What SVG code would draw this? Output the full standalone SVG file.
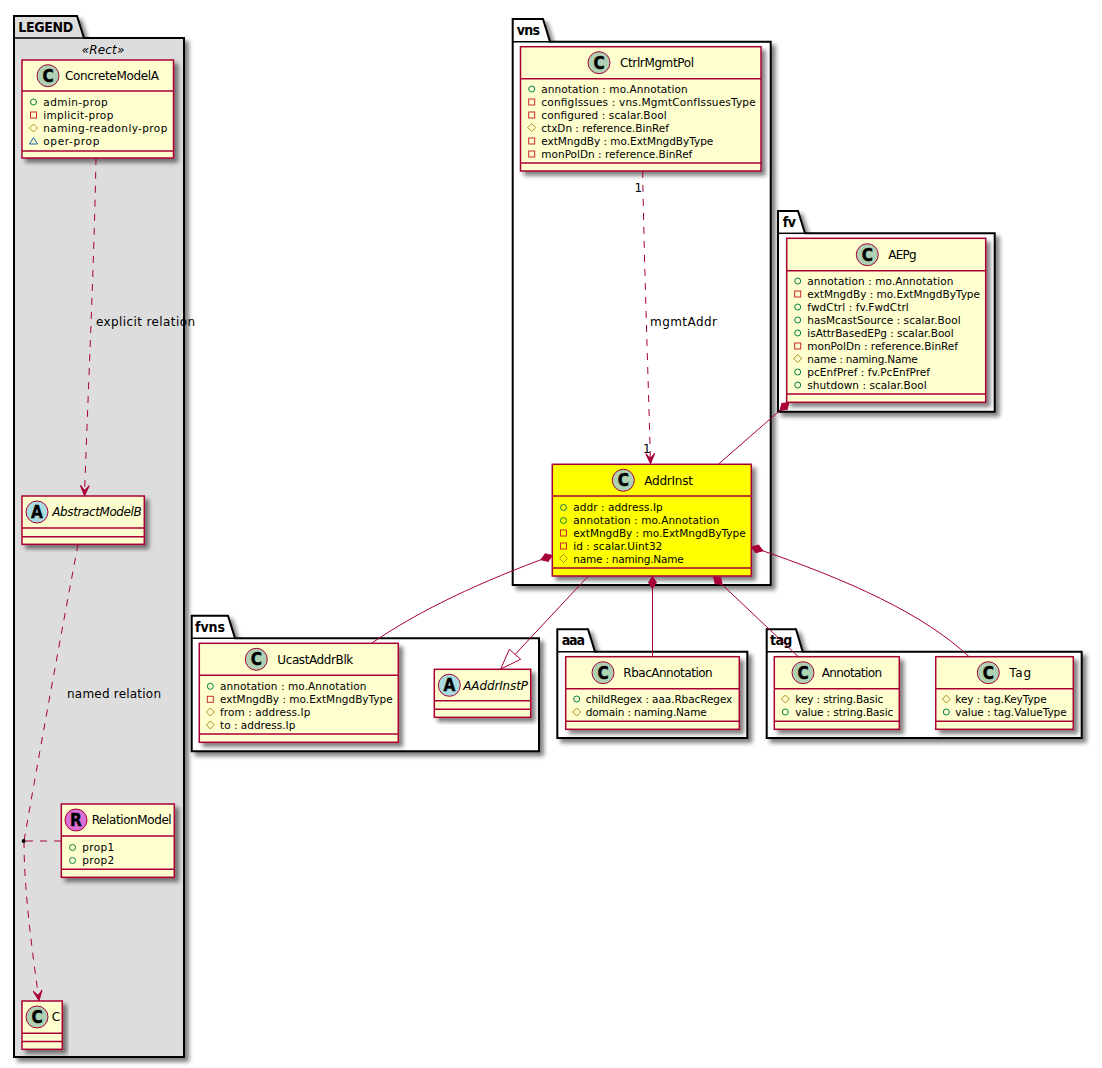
<svg xmlns="http://www.w3.org/2000/svg" width="1102" height="1068" viewBox="0 0 1102 1068">
<style>
text{font-family:"DejaVu Sans","Liberation Sans",sans-serif;fill:#000}
.n{font-size:12px}
.a{font-size:10.5px}
.l{font-size:12px}
.p{font-size:14px;font-weight:bold;font-stretch:condensed;font-family:"DejaVu Sans Condensed","DejaVu Sans",sans-serif}
.i{font-style:italic}
.box{fill:#FEFECE;stroke:#A80036;stroke-width:1.5}
.y{fill:#FFFF00}
.sep{stroke:#A80036;stroke-width:1.5;fill:none}
.pkg{fill:#fff;stroke:#000;stroke-width:2}
.leg{fill:#DDDDDD}
.tabl{stroke:#000;stroke-width:1.5;fill:none}
.ic{stroke:#A80036;stroke-width:1}
.g{font-size:17px;font-weight:bold;font-stretch:condensed;text-anchor:middle;font-family:"DejaVu Sans Condensed","DejaVu Sans",sans-serif;stroke:#000;stroke-width:.4}
.c{fill:none;stroke:#A80036;stroke-width:1}
.d{stroke-dasharray:7,7}
</style>
<defs>
<filter id="s" x="-10%" y="-10%" width="125%" height="125%">
<feGaussianBlur in="SourceAlpha" stdDeviation="2"/>
<feOffset dx="4" dy="4"/>
<feComponentTransfer><feFuncA type="linear" slope="0.5"/></feComponentTransfer>
<feMerge><feMergeNode/><feMergeNode in="SourceGraphic"/></feMerge>
</filter>
<circle id="pub" r="3" fill="none" stroke="#038048"/>
<rect id="pri" x="-3" y="-3" width="6" height="6" fill="none" stroke="#C82930"/>
<polygon id="pro" points="0,-4 4,0 0,4 -4,0" fill="none" stroke="#B38D22"/>
<polygon id="pkgp" points="0,-3.5 4,3 -4,3" fill="none" stroke="#1963A0"/>
<marker id="vee" markerUnits="userSpaceOnUse" markerWidth="14" markerHeight="12" viewBox="-12 -6 14 12" refX="0" refY="0" orient="auto"><polygon points="0,0 -10,-4.5 -5,0 -10,4.5" fill="#A80036" stroke="#A80036"/></marker>
<marker id="dia" markerUnits="userSpaceOnUse" markerWidth="16" markerHeight="12" viewBox="-1 -6 16 12" refX="0" refY="0" orient="auto"><polygon points="0,0 6,-4 12,0 6,4" fill="#A80036" stroke="#A80036"/></marker>
</defs>

<g id="pkg-LEGEND"><path class="pkg leg" filter="url(#s)" d="M14,38 V16 H77 L84,38 H184 V1057 H14 Z"/><path class="tabl" d="M14,38 H84"/><text class="p" x="18.3" y="32" textLength="55">LEGEND</text><text class="l i" x="81.7" y="53.5" textLength="42.6">«Rect»</text></g>
<g id="pkg-vns"><path class="pkg" filter="url(#s)" d="M512.7,41.7 V19 H543 L550,41.7 H770.7 V585 H512.7 Z"/><path class="tabl" d="M512.7,41.7 H550"/><text class="p" x="516.7" y="35" textLength="23.3">vns</text></g>
<g id="pkg-fv"><path class="pkg" filter="url(#s)" d="M778,233.3 V211 H798 L805,233.3 H994.7 V411.7 H778 Z"/><path class="tabl" d="M778,233.3 H805"/><text class="p" x="782.7" y="227" textLength="13.3">fv</text></g>
<g id="pkg-fvns"><path class="pkg" filter="url(#s)" d="M191.7,638.3 V615.7 H228 L235,638.3 H539 V751.3 H191.7 Z"/><path class="tabl" d="M191.7,638.3 H235"/><text class="p" x="195" y="632" textLength="30">fvns</text></g>
<g id="pkg-aaa"><path class="pkg" filter="url(#s)" d="M557.3,651.7 V629.3 H588 L595,651.7 H747.3 V738 H557.3 Z"/><path class="tabl" d="M557.3,651.7 H595"/><text class="p" x="561.7" y="645" textLength="23.3">aaa</text></g>
<g id="pkg-tag"><path class="pkg" filter="url(#s)" d="M766.7,651.7 V629.3 H796 L802.7,651.7 H1081.7 V738 H766.7 Z"/><path class="tabl" d="M766.7,651.7 H802.7"/><text class="p" x="770" y="645" textLength="22.3">tag</text></g>

<g id="ConcreteModelA"><rect class="box" filter="url(#s)" x="22" y="60" width="151.5" height="98"/><path class="sep" d="M22,91 H173.5 M22,151 H173.5"/>
<circle class="ic" cx="48" cy="75.7" r="11" fill="#ADD1B2"/><text class="g" x="48" y="81.7">C</text><text class="n" x="65" y="80" textLength="94">ConcreteModelA</text>
<use href="#pub" x="33.5" y="102"/><text class="a" x="43.3" y="106" textLength="64.4">admin-prop</text>
<use href="#pri" x="33.5" y="115"/><text class="a" x="43.3" y="119" textLength="70">implicit-prop</text>
<use href="#pro" x="33.5" y="128"/><text class="a" x="43.3" y="132" textLength="124">naming-readonly-prop</text>
<use href="#pkgp" x="33.5" y="141"/><text class="a" x="43.3" y="145" textLength="56">oper-prop</text></g>

<g id="AbstractModelB"><rect class="box" filter="url(#s)" x="22" y="496" width="122.3" height="48.3"/><path class="sep" d="M22,528 H144.3 M22,536.7 H144.3"/>
<circle class="ic" cx="37" cy="512" r="11" fill="#A9DCDF"/><text class="g" x="37" y="518">A</text><text class="n i" x="52.3" y="516" textLength="89.4">AbstractModelB</text></g>

<g id="RelationModel"><rect class="box" filter="url(#s)" x="61.3" y="804" width="113" height="73.3"/><path class="sep" d="M61.3,836 H174.3 M61.3,869.3 H174.3"/>
<circle class="ic" cx="76" cy="820" r="11" fill="#DA70D6"/><text class="g" x="76" y="826">R</text><text class="n" x="91.7" y="824" textLength="80">RelationModel</text>
<use href="#pub" x="72.5" y="847.5"/><text class="a" x="82.3" y="851" textLength="32">prop1</text>
<use href="#pub" x="72.5" y="860.5"/><text class="a" x="82.3" y="864" textLength="32">prop2</text></g>

<g id="C"><rect class="box" filter="url(#s)" x="22" y="1001" width="40.3" height="48.3"/><path class="sep" d="M22,1033.3 H62.3 M22,1041.5 H62.3"/>
<circle class="ic" cx="37" cy="1017" r="11" fill="#ADD1B2"/><text class="g" x="37" y="1023">C</text><text class="n" x="51.7" y="1021" textLength="7.6">C</text></g>

<g id="CtrlrMgmtPol"><rect class="box" filter="url(#s)" x="520.5" y="46.7" width="240.5" height="124.3"/><path class="sep" d="M520.5,78.7 H761 M520.5,163 H761"/>
<circle class="ic" cx="599" cy="62.7" r="11" fill="#ADD1B2"/><text class="g" x="599" y="68.7">C</text><text class="n" x="620" y="67" textLength="74">CtrlrMgmtPol</text>
<use href="#pub" x="531.7" y="89"/><text class="a" x="541.3" y="93" textLength="146.4">annotation : mo.Annotation</text>
<use href="#pri" x="531.7" y="102"/><text class="a" x="541.3" y="106" textLength="214.4">configIssues : vns.MgmtConfIssuesType</text>
<use href="#pri" x="531.7" y="115"/><text class="a" x="541.3" y="119" textLength="125.4">configured : scalar.Bool</text>
<use href="#pro" x="531.7" y="127.5"/><text class="a" x="541.3" y="131.5" textLength="127.7">ctxDn : reference.BinRef</text>
<use href="#pri" x="531.7" y="141"/><text class="a" x="541.3" y="144.5" textLength="172">extMngdBy : mo.ExtMngdByType</text>
<use href="#pri" x="531.7" y="154"/><text class="a" x="541.3" y="157.5" textLength="151">monPolDn : reference.BinRef</text></g>

<g id="AEPg"><rect class="box" filter="url(#s)" x="786.7" y="238.3" width="199" height="164"/><path class="sep" d="M786.7,270.7 H985.7 M786.7,394 H985.7"/>
<circle class="ic" cx="867.3" cy="254.7" r="11" fill="#ADD1B2"/><text class="g" x="867.3" y="260.7">C</text><text class="n" x="888.3" y="259" textLength="28.4">AEPg</text>
<use href="#pub" x="797.7" y="281"/><text class="a" x="807.3" y="285" textLength="146">annotation : mo.Annotation</text>
<use href="#pri" x="797.7" y="294"/><text class="a" x="807.3" y="298" textLength="172.7">extMngdBy : mo.ExtMngdByType</text>
<use href="#pub" x="797.7" y="307"/><text class="a" x="807.3" y="311" textLength="101.4">fwdCtrl : fv.FwdCtrl</text>
<use href="#pub" x="797.7" y="320"/><text class="a" x="807.3" y="324" textLength="153.4">hasMcastSource : scalar.Bool</text>
<use href="#pub" x="797.7" y="333"/><text class="a" x="807.3" y="336.5" textLength="146.4">isAttrBasedEPg : scalar.Bool</text>
<use href="#pri" x="797.7" y="346"/><text class="a" x="807.3" y="349.5" textLength="150.7">monPolDn : reference.BinRef</text>
<use href="#pro" x="797.7" y="358.5"/><text class="a" x="807.3" y="362.5" textLength="110.4">name : naming.Name</text>
<use href="#pub" x="797.7" y="372"/><text class="a" x="807.3" y="375.5" textLength="122.7">pcEnfPref : fv.PcEnfPref</text>
<use href="#pub" x="797.7" y="385"/><text class="a" x="807.3" y="388.5" textLength="119.4">shutdown : scalar.Bool</text></g>

<g id="AddrInst"><rect class="box y" filter="url(#s)" x="552.3" y="464.3" width="199" height="111.7"/><path class="sep" d="M552.3,496 H751.3 M552.3,568 H751.3"/>
<circle class="ic" cx="623.3" cy="480.3" r="11" fill="#ADD1B2"/><text class="g" x="623.3" y="486.3">C</text><text class="n" x="644.3" y="485" textLength="48.7">AddrInst</text>
<use href="#pub" x="563.5" y="507.5"/><text class="a" x="573.3" y="511" textLength="89.4">addr : address.Ip</text>
<use href="#pub" x="563.5" y="520.5"/><text class="a" x="573.3" y="524" textLength="146">annotation : mo.Annotation</text>
<use href="#pri" x="563.5" y="533"/><text class="a" x="573.3" y="537" textLength="172.4">extMngdBy : mo.ExtMngdByType</text>
<use href="#pri" x="563.5" y="546"/><text class="a" x="573.3" y="550" textLength="89">id : scalar.Uint32</text>
<use href="#pro" x="563.5" y="558.5"/><text class="a" x="573.3" y="562.5" textLength="110.4">name : naming.Name</text></g>

<g id="UcastAddrBlk"><rect class="box" filter="url(#s)" x="199.3" y="643.3" width="199" height="99"/><path class="sep" d="M199.3,675.3 H398.3 M199.3,734 H398.3"/>
<circle class="ic" cx="256.3" cy="659.3" r="11" fill="#ADD1B2"/><text class="g" x="256.3" y="665.3">C</text><text class="n" x="277.3" y="664" textLength="76">UcastAddrBlk</text>
<use href="#pub" x="210.3" y="686.3"/><text class="a" x="220" y="690" textLength="146.3">annotation : mo.Annotation</text>
<use href="#pri" x="210.3" y="699.3"/><text class="a" x="220" y="703" textLength="172.7">extMngdBy : mo.ExtMngdByType</text>
<use href="#pro" x="210.3" y="712"/><text class="a" x="220" y="716" textLength="90.3">from : address.Ip</text>
<use href="#pro" x="210.3" y="725"/><text class="a" x="220" y="729" textLength="75.3">to : address.Ip</text></g>

<g id="AAddrInstP"><rect class="box" filter="url(#s)" x="434.3" y="669.3" width="96.4" height="48"/><path class="sep" d="M434.3,700.7 H530.7 M434.3,709.3 H530.7"/>
<circle class="ic" cx="449.3" cy="685.3" r="11" fill="#A9DCDF"/><text class="g" x="449.3" y="691.3">A</text><text class="n i" x="463.3" y="690" textLength="64.7">AAddrInstP</text></g>

<g id="RbacAnnotation"><rect class="box" filter="url(#s)" x="565.7" y="656.7" width="173.6" height="72.6"/><path class="sep" d="M565.7,688.7 H739.3 M565.7,721.3 H739.3"/>
<circle class="ic" cx="603" cy="672.7" r="11" fill="#ADD1B2"/><text class="g" x="603" y="678.7">C</text><text class="n" x="623.3" y="677" textLength="89.4">RbacAnnotation</text>
<use href="#pub" x="576.7" y="699"/><text class="a" x="585.7" y="703" textLength="146.6">childRegex : aaa.RbacRegex</text>
<use href="#pro" x="576.7" y="712"/><text class="a" x="585.7" y="716" textLength="121">domain : naming.Name</text></g>

<g id="Annotation"><rect class="box" filter="url(#s)" x="774.3" y="656.7" width="125" height="72.6"/><path class="sep" d="M774.3,688.7 H899.3 M774.3,721.3 H899.3"/>
<circle class="ic" cx="803" cy="672.7" r="11" fill="#ADD1B2"/><text class="g" x="803" y="678.7">C</text><text class="n" x="821.7" y="677" textLength="60.3">Annotation</text>
<use href="#pro" x="785.3" y="699"/><text class="a" x="795.3" y="703" textLength="88">key : string.Basic</text>
<use href="#pub" x="785.3" y="712"/><text class="a" x="795.3" y="716" textLength="98">value : string.Basic</text></g>

<g id="Tag"><rect class="box" filter="url(#s)" x="935.7" y="656.7" width="137.6" height="72.6"/><path class="sep" d="M935.7,688.7 H1073.3 M935.7,721.3 H1073.3"/>
<circle class="ic" cx="988.3" cy="672.7" r="11" fill="#ADD1B2"/><text class="g" x="988.3" y="678.7">C</text><text class="n" x="1009.3" y="677" textLength="21.7">Tag</text>
<use href="#pro" x="946.3" y="699"/><text class="a" x="955.3" y="703" textLength="91.4">key : tag.KeyType</text>
<use href="#pub" x="946.3" y="712"/><text class="a" x="955.3" y="716" textLength="111.4">value : tag.ValueType</text></g>

<g id="connectors">
<path class="c d" marker-end="url(#vee)" d="M96,158 C94,270 88,390 84.5,495.5"/>
<path class="c d" d="M78,544.3 C60,640 38,760 24,841"/>
<path class="c d" marker-end="url(#vee)" d="M24,841 C24,890 32,950 39,1000.5"/>
<path class="c d" d="M61,841 H24"/>
<circle cx="23.7" cy="841" r="2" fill="#000"/>
<path class="c d" marker-end="url(#vee)" d="M642.7,171 C644,260 648,370 650.5,463.5"/>
<path class="c" marker-start="url(#dia)" d="M789,402.5 L718.3,464.3"/>
<path class="c" marker-start="url(#dia)" d="M552.3,555.5 C480,582 420,610 371.5,643.3"/>
<path class="c" d="M588.3,576 L515,654.5"/>
<polygon points="500.7,669 509.3,649.3 520.7,659.3" fill="#fff" stroke="#A80036"/>
<path class="c" marker-start="url(#dia)" d="M652.5,576.5 V656.7"/>
<path class="c" marker-start="url(#dia)" d="M713.5,576.5 L798.3,656.7"/>
<path class="c" marker-start="url(#dia)" d="M751.5,547 C850,580 925,615 969,656.7"/>
<text class="l" x="96" y="326" textLength="99">explicit relation</text>
<text class="l" x="67" y="697.7" textLength="94">named relation</text>
<text class="l" x="650" y="326" textLength="67">mgmtAddr</text>
<text class="l" x="634.5" y="192.3" textLength="6.5">1</text>
<text class="l" x="643" y="452.7" textLength="6.5">1</text>
</g>
</svg>
